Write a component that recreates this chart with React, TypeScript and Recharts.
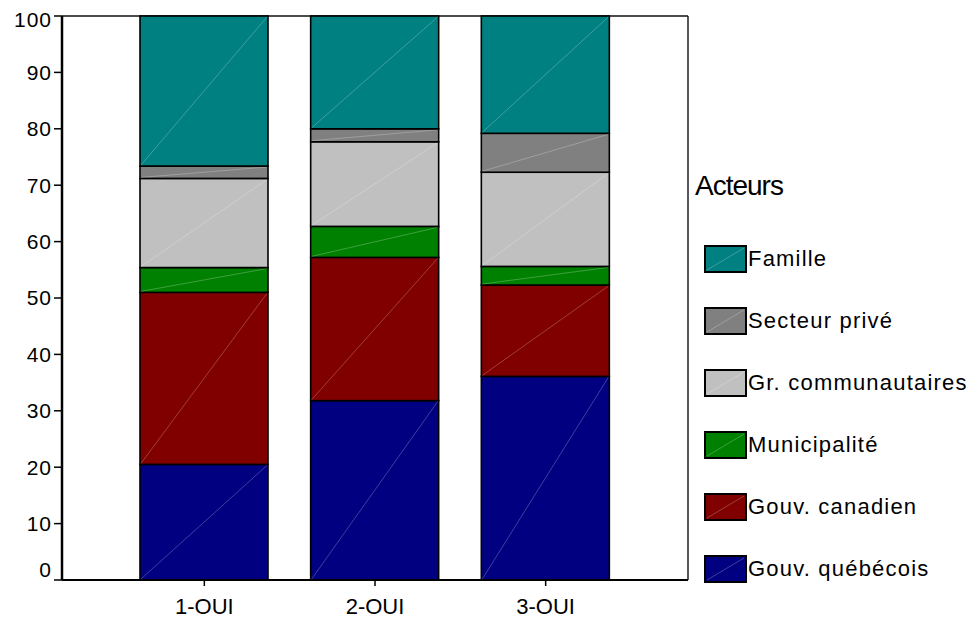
import { BarChart, Bar, XAxis, YAxis, CartesianGrid } from 'recharts';

const categories = ['1-OUI', '2-OUI', '3-OUI'];
const gouvQuebecois = [20.5, 31.8, 36.1];
const gouvCanadien = [30.5, 25.4, 16.2];
const municipalite = [4.4, 5.5, 3.3];
const grCommunautaires = [15.8, 15.0, 16.7];
const secteurPrive = [2.2, 2.3, 6.9];
const famille = [26.6, 20.0, 20.8];
const yTicks = [0, 10, 20, 30, 40, 50, 60, 70, 80, 90, 100];

// bottom to top in the stack
const series = [
  { key: 'quebecois', name: 'Gouv. québécois', color: '#000080', values: gouvQuebecois },
  { key: 'canadien', name: 'Gouv. canadien', color: '#800000', values: gouvCanadien },
  { key: 'municipalite', name: 'Municipalité', color: '#008000', values: municipalite },
  { key: 'communautaires', name: 'Gr. communautaires', color: '#C0C0C0', values: grCommunautaires },
  { key: 'prive', name: 'Secteur privé', color: '#808080', values: secteurPrive },
  { key: 'famille', name: 'Famille', color: '#008080', values: famille },
];

const data = categories.map((cat, i) => {
  const row: { [k: string]: string | number } = { cat };
  series.forEach((s) => {
    row[s.key] = s.values[i];
  });
  return row;
});

const FONT = '"Liberation Sans", Arial, sans-serif';

function Segment(props: any) {
  const { x, y, width, height, fill } = props;
  if (!height) return null;
  return (
    <g>
      <rect x={x} y={y} width={width} height={height} fill={fill} stroke="#000" strokeWidth={1.6} />
      <line
        x1={x + 1}
        y1={y + height - 1}
        x2={x + width - 1}
        y2={y + 1}
        stroke="#fff"
        strokeOpacity={0.35}
        strokeWidth={0.7}
      />
    </g>
  );
}

function YTick(props: any) {
  const { x, y, payload } = props;
  let adj = 0;
  if (payload.value === 0) adj = -10;
  if (payload.value === 100) adj = 4;
  return (
    <text
      x={x}
      y={y + adj}
      dy="0.35em"
      textAnchor="end"
      fontFamily={FONT}
      fontSize={21}
      letterSpacing={1}
      fill="#000"
    >
      {payload.value}
    </text>
  );
}

export default function App() {
  const legendItems = [...series].reverse();
  return (
    <div style={{ position: 'absolute', left: 0, top: 0, width: 980, height: 619, background: '#fff' }}>
      <BarChart
        width={980}
        height={619}
        data={data}
        margin={{ top: 16, right: 292, left: 0, bottom: 0 }}
        barSize={128}
      >
        {/* frame: top and right edges of the plot */}
        <CartesianGrid
          stroke="#111"
          strokeWidth={1.4}
          horizontalCoordinatesGenerator={({ offset }: any) => [offset.top]}
          verticalCoordinatesGenerator={({ offset }: any) => [offset.left + offset.width]}
        />
        <XAxis
          dataKey="cat"
          height={39}
          padding={{ left: 57, right: 57 }}
          axisLine={{ stroke: '#000', strokeWidth: 2 }}
          tickLine={{ stroke: '#000', strokeWidth: 1.5 }}
          tickSize={6}
          tickMargin={12}
          tick={{ fontFamily: FONT, fontSize: 22, fill: '#000' }}
        />
        <YAxis
          width={62}
          domain={[0, 100]}
          ticks={yTicks}
          interval={0}
          axisLine={{ stroke: '#000', strokeWidth: 2.5 }}
          tickLine={{ stroke: '#000', strokeWidth: 1.5 }}
          tickSize={8}
          tickMargin={2}
          tick={<YTick />}
        />
        {series.map((s) => (
          <Bar
            key={s.key}
            dataKey={s.key}
            name={s.name}
            stackId="a"
            fill={s.color}
            shape={<Segment />}
            isAnimationActive={false}
          />
        ))}
      </BarChart>
      <div
        style={{
          position: 'absolute',
          left: 695,
          top: 170,
          fontFamily: FONT,
          fontSize: 28,
          letterSpacing: -1,
          color: '#000',
        }}
      >
        Acteurs
      </div>
      {legendItems.map((s, i) => (
        <div
          key={s.key}
          style={{
            position: 'absolute',
            left: 704,
            top: 245 + i * 62,
            height: 28,
            display: 'flex',
            alignItems: 'center',
            fontFamily: FONT,
            fontSize: 22,
            letterSpacing: 1.2,
            color: '#000',
            whiteSpace: 'nowrap',
          }}
        >
          <svg width={43} height={28} style={{ display: 'block' }}>
            <rect x={1} y={1} width={41} height={26} fill={s.color} stroke="#000" strokeWidth={2} />
            <line x1={3} y1={25} x2={40} y2={3} stroke="#fff" strokeOpacity={0.35} strokeWidth={0.7} />
          </svg>
          <span style={{ marginLeft: 1 }}>{s.name}</span>
        </div>
      ))}
    </div>
  );
}
